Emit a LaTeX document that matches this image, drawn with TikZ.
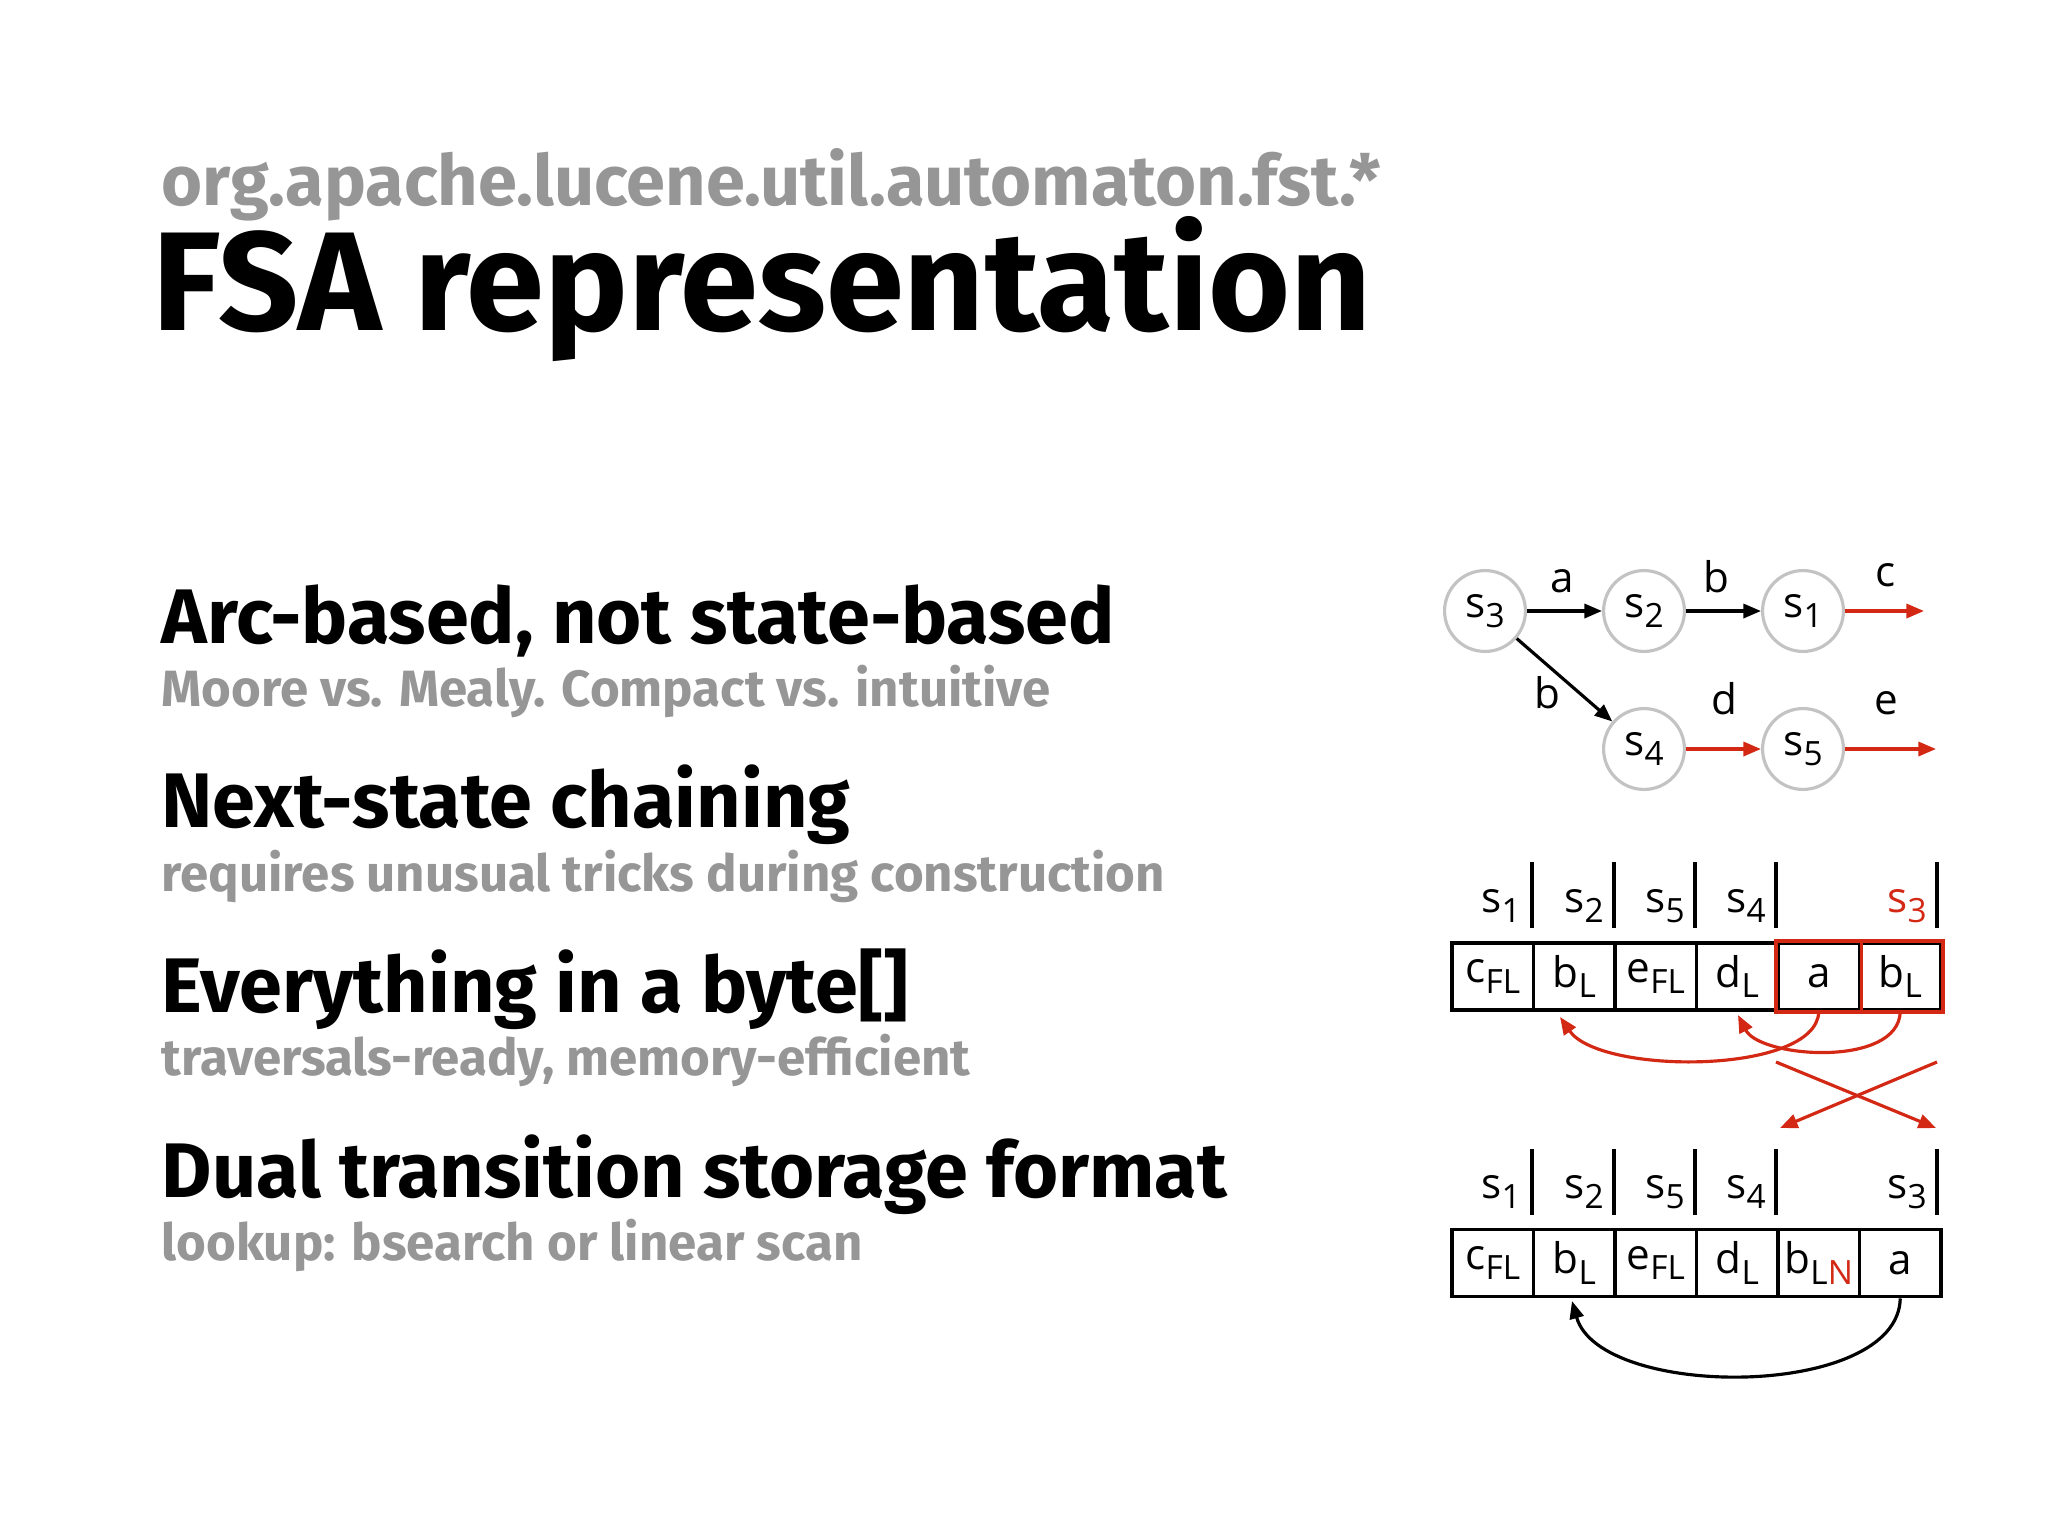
\documentclass[tikz,border=0pt]{standalone}
\usepackage{fontspec}
\setmainfont{Fira Sans}
\newfontfamily\dfont{Open Sans}
\usetikzlibrary{arrows.meta}
\definecolor{tgray}{RGB}{150,150,150}
\definecolor{tred}{RGB}{210,40,20}
\definecolor{cgray}{RGB}{195,195,195}
\newcommand{\lowsub}[1]{\raisebox{-0.45ex}{\fontsize{9.5}{10}\selectfont #1}}
\begin{document}
\begin{tikzpicture}[x=0.01cm,y=-0.01cm,
  st/.style={circle,draw=cgray,line width=0.9pt,minimum size=23pt,inner sep=0pt,font=\dfont\fontsize{12}{12}\selectfont},
  arr/.style={line width=0.9pt,-{Triangle[length=5pt,width=4pt]}},
  lab/.style={font=\dfont\fontsize{12}{12}\selectfont,inner sep=0pt,anchor=base},
  cell/.style={draw,line width=1.1pt,minimum width=81.5*0.01cm,minimum height=67*0.01cm,inner sep=0pt,font=\dfont\fontsize{12}{12}\selectfont},
  sep/.style={line width=1.1pt},
  h1/.style={anchor=base west,inner sep=0pt,font=\bfseries\fontsize{22}{22}\selectfont},
  h2/.style={anchor=base west,inner sep=0pt,text=tgray,font=\bfseries\fontsize{14.5}{14.5}\selectfont}]
\useasboundingbox (0,0) rectangle (2048,1536);
\node[anchor=base west,inner sep=0pt,text=tgray,font=\bfseries\fontsize{20}{20}\selectfont] (org) at (161,205) {org.apache.lucene.util.automaton.fst.*};
\node[anchor=base west,inner sep=0pt,font=\bfseries\fontsize{40}{40}\selectfont] (ttl) at (152,330) {FSA representation};
\node[h1] (a1) at (161,643) {Arc-based, not state-based};
\node[h2] (a2) at (161,706) {Moore vs. Mealy. Compact vs. intuitive};
\node[h1] (b1) at (161,827) {Next-state chaining};
\node[h2] (b2) at (161,891) {requires unusual tricks during construction};
\node[h1] (c1) at (161,1012) {Everything in a byte[]};
\node[h2] (c2) at (161,1075) {traversals-ready, memory-efficient};
\node[h1] (d1) at (161,1197) {Dual transition storage format};
\node[h2] (d2) at (161,1260) {lookup: bsearch or linear scan};
% automaton
\node[st] (s3) at (1485,611) {s\lowsub{3}};
\node[st] (s2) at (1644,611) {s\lowsub{2}};
\node[st] (s1) at (1803,611) {s\lowsub{1}};
\node[st] (s4) at (1644,749) {s\lowsub{4}};
\node[st] (s5) at (1803,749) {s\lowsub{5}};
\coordinate (ce) at (1924,611);
\coordinate (ee) at (1936,749);
\draw[arr] (s3) -- (s2);
\draw[arr] (s2) -- (s1);
\draw[arr] (s3) -- (s4);
\draw[arr,tred] (s1) -- (ce);
\draw[arr,tred] (s4) -- (s5);
\draw[arr,tred] (s5) -- (ee);
\node[lab] (la) at (1562,592) {a};
\node[lab] (lb) at (1716,592) {b};
\node[lab] (lc) at (1886,586) {c};
\node[lab] (lb2) at (1547,708) {b};
\node[lab] (ld) at (1724,714) {d};
\node[lab] (le) at (1886,714) {e};
% top array
\foreach \i/\t in {1/c\lowsub{FL},2/b\lowsub{L},3/e\lowsub{FL},4/d\lowsub{L},5/a,6/b\lowsub{L}}
  \node[cell] (t\i) at ({1452+81.5*(\i-0.5)},976.5) {\t};
\draw[tred,line width=1.1pt] (t5.north west) rectangle (t6.south east);
\draw[tred,line width=1.1pt] (t5.north east) -- (t5.south east);
\foreach \x [count=\k] in {1532,1614,1695,1776,1937} {
  \coordinate (ua\k) at (\x,862); \coordinate (ub\k) at (\x,928);
  \draw[sep] (ua\k) -- (ub\k);
  \coordinate (la\k) at (\x,1149); \coordinate (lb\k) at (\x,1215);
  \draw[sep] (la\k) -- (lb\k);}
\foreach \x/\s [count=\k] in {1501/1,1584/2,1665/5,1746/4}{
  \node[lab] (tl\k) at (\x,912) {s\lowsub{\s}};
  \node[lab] (bl\k) at (\x,1198) {s\lowsub{\s}};}
\node[lab,text=tred] (tl5) at (1907,912) {s\lowsub{3}};
\node[lab] (bl5) at (1907,1198) {s\lowsub{3}};
\draw[arr,tred] (t5.south) .. controls (1816,1075) and (1600,1075) .. (1560,1017);
\draw[arr,tred] (t6.south) .. controls (1898,1068) and (1760,1058) .. (1738,1015);
% cross
\coordinate (x1) at (1776,1062); \coordinate (x2) at (1936,1128);
\coordinate (x3) at (1937,1062); \coordinate (x4) at (1780,1128);
\draw[arr,tred] (x1) -- (x2);
\draw[arr,tred] (x3) -- (x4);
% bottom array
\foreach \i/\t in {1/c\lowsub{FL},2/b\lowsub{L},3/e\lowsub{FL},4/d\lowsub{L},5/b\lowsub{L\textcolor{tred}{N}},6/a}
  \node[cell] (u\i) at ({1452+81.5*(\i-0.5)},1263) {\t};
\draw[arr] (u6.south) .. controls (1898,1400) and (1600,1400) .. (1572,1301);
\end{tikzpicture}
\end{document}
